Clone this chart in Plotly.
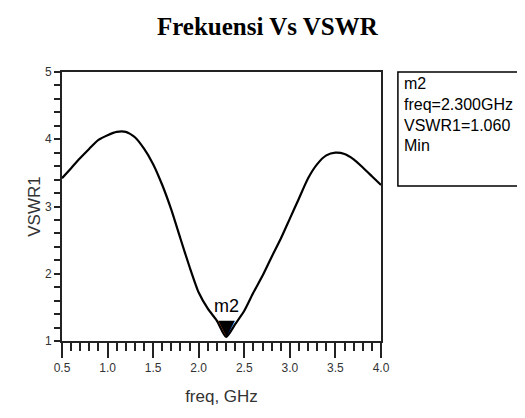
import plotly.graph_objects as go

freq = [0.5, 0.6, 0.7, 0.8, 0.9, 1.0, 1.1, 1.2, 1.3, 1.4, 1.5, 1.6, 1.7, 1.8, 1.9,
        2.0, 2.1, 2.2, 2.3, 2.4, 2.5, 2.6, 2.7, 2.8, 2.9, 3.0, 3.1, 3.2, 3.3, 3.4,
        3.5, 3.6, 3.7, 3.8, 3.9, 4.0]
vswr = [3.42, 3.57, 3.72, 3.86, 3.99, 4.06, 4.11, 4.11, 4.03, 3.86, 3.63, 3.32, 2.95, 2.52, 2.10,
        1.72, 1.48, 1.30, 1.06, 1.25, 1.45, 1.72, 1.97, 2.25, 2.52, 2.82, 3.12, 3.42, 3.63, 3.76,
        3.80, 3.78, 3.70, 3.58, 3.45, 3.32]

marker_name = "m2"
marker_freq = 2.3
marker_vswr = 1.06
marker_lines = ["m2", "freq=2.300GHz", "VSWR1=1.060", "Min"]

x_ticks = [0.5, 1.0, 1.5, 2.0, 2.5, 3.0, 3.5, 4.0]
y_ticks = [1, 2, 3, 4, 5]

FONT = "Liberation Sans Narrow, Liberation Sans, Arial"

fig = go.Figure()
fig.add_trace(go.Scatter(x=freq, y=vswr, mode="lines",
                         line=dict(color="black", width=2.2, shape="spline", smoothing=0.6),
                         hoverinfo="skip", showlegend=False))

# marker triangle and label
fig.add_annotation(x=marker_freq, y=marker_vswr, xref="x", yref="y", text="▼",
                   showarrow=False, yanchor="bottom", yshift=-5,
                   font=dict(size=22, color="black", family="DejaVu Sans"))
fig.add_annotation(x=marker_freq, y=marker_vswr, xref="x", yref="y", text=marker_name,
                   showarrow=False, yanchor="bottom", yshift=19,
                   font=dict(size=18, color="black", family=FONT))

# marker readout box
fig.add_shape(type="rect", xref="paper", yref="paper", x0=1.053, x1=1.45, y0=0.576, y1=1.0,
              line=dict(color="black", width=1.5), fillcolor="white", layer="above")
fig.add_annotation(xref="paper", yref="paper", x=1.066, y=0.998, xanchor="left", yanchor="top",
                   text="<br>".join(marker_lines), align="left", showarrow=False,
                   font=dict(size=16, color="black", family=FONT))

fig.update_layout(
    width=525, height=418,
    margin=dict(l=54, r=152, t=64, b=85),
    paper_bgcolor="white", plot_bgcolor="white",
    title=dict(text="<b>Frekuensi Vs VSWR</b>", xref="container", x=0.494, xanchor="center",
               yref="container", y=0.957, yanchor="middle",
               font=dict(family="Liberation Serif, Times New Roman, serif", size=25, color="black")),
    xaxis=dict(range=[0.5, 4.0], tickvals=x_ticks, ticktext=[f"{v:.1f}" for v in x_ticks],
               showgrid=False, zeroline=False, showline=True, linecolor="#222", linewidth=2,
               mirror=True, ticks="outside", ticklen=15, tickwidth=1.5, tickcolor="#222",
               minor=dict(dtick=0.1, ticks="outside", ticklen=8, tickwidth=1.5, tickcolor="#222"),
               tickfont=dict(family=FONT, size=12, color="#333"),
               title=dict(text="freq, GHz", font=dict(family=FONT, size=17, color="#333"), standoff=16)),
    yaxis=dict(range=[1, 5], tickvals=y_ticks, showgrid=False, zeroline=False, showline=True,
               linecolor="#222", linewidth=2, mirror=True, ticks="outside", ticklen=6,
               tickwidth=1.5, tickcolor="#222",
               minor=dict(dtick=0.2, ticks="outside", ticklen=6, tickwidth=1.5, tickcolor="#222"),
               tickfont=dict(family=FONT, size=12, color="#333"),
               title=dict(text="VSWR1", font=dict(family=FONT, size=17, color="#333"), standoff=0)),
)

fig.write_html("out.html")
